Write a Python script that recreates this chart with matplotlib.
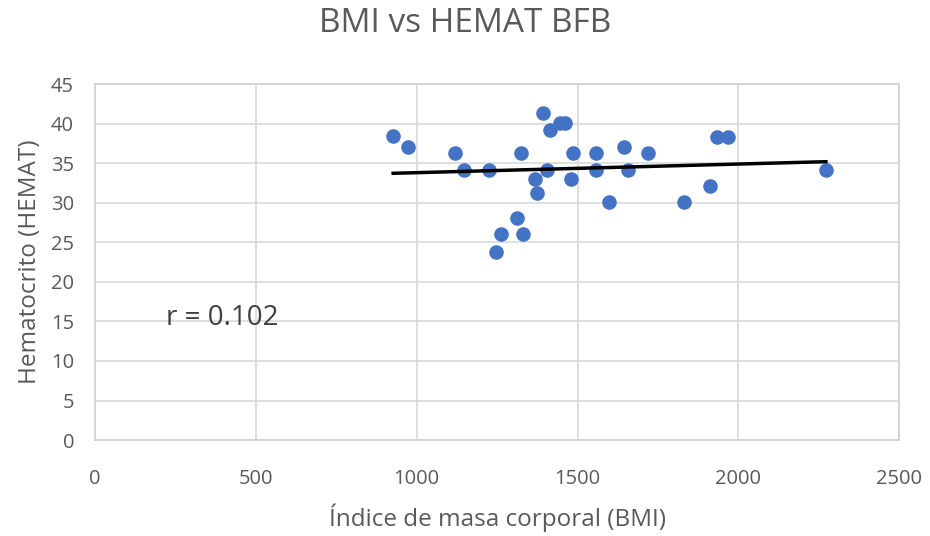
import numpy as np
import matplotlib
matplotlib.use("Agg")
import matplotlib.pyplot as plt

# BMI values (x) and hematocrit (y)
bmi = [927, 972, 1119, 1148, 1226, 1325, 1394, 1415, 1444, 1462,
       1404, 1368, 1375, 1311, 1262, 1332, 1247, 1487, 1480, 1558,
       1558, 1643, 1658, 1720, 1599, 1832, 1912, 1933, 1969, 2272]
hemat = [38.4, 37.1, 36.3, 34.2, 34.2, 36.3, 41.3, 39.2, 40.1, 40.1,
         34.2, 33.0, 31.3, 28.1, 26.0, 26.0, 23.8, 36.3, 33.0, 36.3,
         34.2, 37.1, 34.1, 36.3, 30.1, 30.1, 32.1, 38.3, 38.3, 34.1]

x_ticks = [0, 500, 1000, 1500, 2000, 2500]
y_ticks = [0, 5, 10, 15, 20, 25, 30, 35, 40, 45]

plt.rcParams['font.family'] = ['Open Sans', 'DejaVu Sans']
gray = "#595959"

fig = plt.figure(figsize=(9.3, 5.36), dpi=100)
ax = fig.add_axes([0.102, 0.179, 0.865, 0.664])

ax.scatter(bmi, hemat, s=110, color="#4472C4", zorder=3, linewidths=0)

# linear trendline over the data range
m, b = np.polyfit(bmi, hemat, 1)
xs = np.array([min(bmi), max(bmi)])
ax.plot(xs, m * xs + b, color="black", lw=2.5, zorder=4)

ax.set_xlim(0, 2500)
ax.set_ylim(0, 45)
ax.set_xticks(x_ticks)
ax.set_yticks(y_ticks)
ax.grid(True, color="#d9d9d9", lw=1.2)
ax.set_axisbelow(True)
ax.tick_params(length=0, labelsize=14.5, labelcolor=gray)
ax.tick_params(axis="x", pad=21)
ax.tick_params(axis="y", pad=15)
for s in ax.spines.values():
    s.set_color("#d0d0d0")
    s.set_linewidth(1.2)

ax.set_xlabel("Índice de masa corporal (BMI)", fontsize=17.5, color=gray, va="center")
ax.xaxis.set_label_coords(0.5, -0.219)
ax.set_ylabel("Hematocrito (HEMAT)", fontsize=17.5, color=gray, va="center")
ax.yaxis.set_label_coords(-0.081, 0.5)
fig.text(0.5, 1 - 23 / 536, "BMI vs HEMAT BFB", fontsize=24, color=gray,
         ha="center", va="center")

ax.text(222, 15.4, "r = 0.102", fontsize=20, color="#404040", va="center")

fig.savefig("out.png", dpi=100)
